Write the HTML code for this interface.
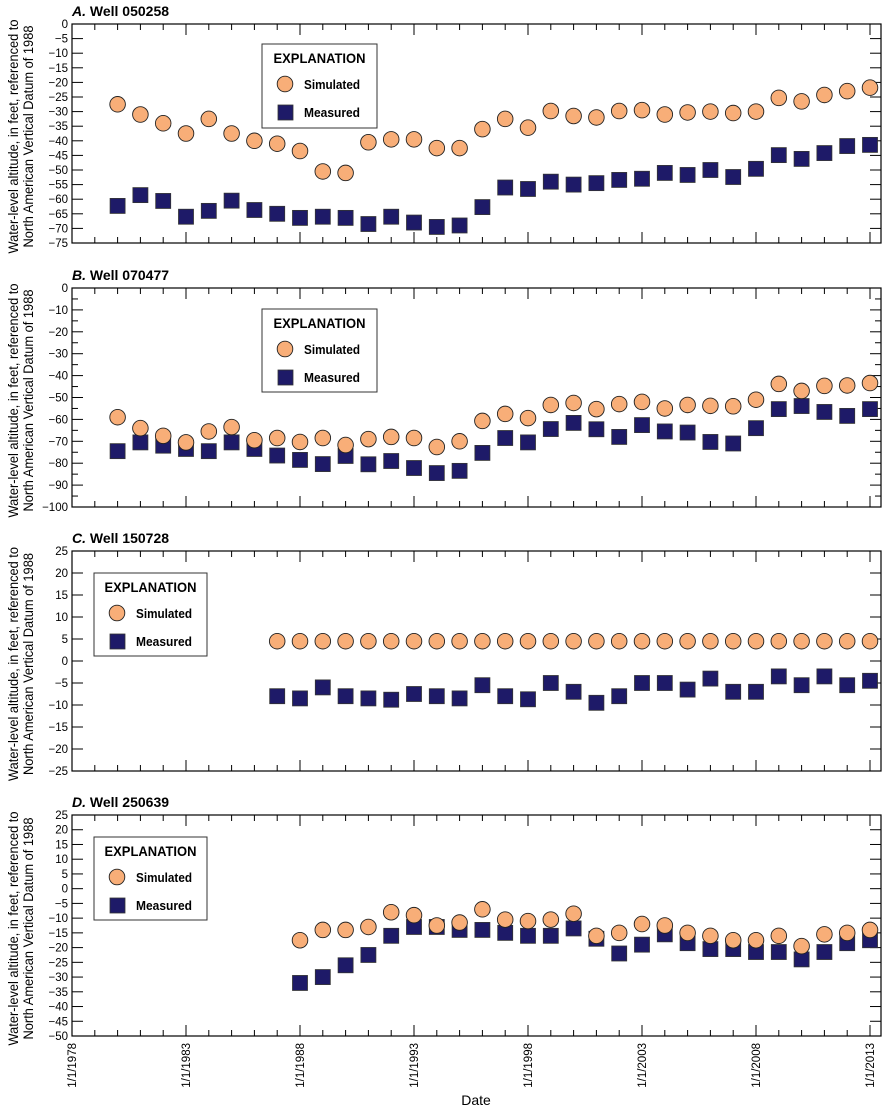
<!DOCTYPE html>
<html><head><meta charset="utf-8"><style>
body{margin:0;background:#fff;}
svg{display:block;font-family:"Liberation Sans",Arial,sans-serif;}
</style></head><body>
<svg id="chart" width="893" height="1110" viewBox="0 0 893 1110"></svg>
<script>
const years = [1980,1981,1982,1983,1984,1985,1986,1987,1988,1989,1990,1991,1992,1993,1994,1995,1996,1997,1998,1999,2000,2001,2002,2003,2004,2005,2006,2007,2008,2009,2010,2011,2012,2013];
const yearsC = years.slice(7);
const yearsD = years.slice(8);
const xTickYears = [1978,1983,1988,1993,1998,2003,2008,2013];
const simA = [-27.5,-31,-34,-37.5,-32.5,-37.5,-40,-41,-43.5,-50.5,-51,-40.5,-39.5,-39.5,-42.5,-42.5,-36,-32.5,-35.5,-29.8,-31.5,-32,-29.8,-29.5,-31,-30.3,-30,-30.5,-30,-25.3,-26.5,-24.3,-23,-21.8];
const measA = [-62.3,-58.6,-60.6,-66,-64,-60.5,-63.7,-65,-66.4,-66,-66.4,-68.5,-66,-68,-69.5,-69,-62.7,-56,-56.5,-54,-55,-54.5,-53.4,-53,-51,-51.7,-50,-52.4,-49.6,-44.9,-46.2,-44.2,-41.8,-41.4];
const simB = [-59,-64,-67.5,-70.5,-65.5,-63.5,-69.5,-68.5,-70.3,-68.5,-71.7,-69,-68,-68.5,-72.6,-70,-60.7,-57.5,-59.4,-53.4,-52.5,-55.3,-53,-52,-55,-53.4,-53.8,-54,-51,-43.8,-47,-44.7,-44.5,-43.4];
const measB = [-74.5,-70.5,-72,-73.5,-74.5,-70.5,-73.5,-76.5,-78.5,-80.4,-76.7,-80.5,-79,-82.2,-84.5,-83.5,-75.3,-68.5,-70.5,-64.4,-61.6,-64.5,-68,-62.6,-65.5,-66,-70.3,-71,-64,-55.3,-53.9,-56.6,-58.4,-55.3];
const simC = [4.5,4.5,4.5,4.5,4.5,4.5,4.5,4.5,4.5,4.5,4.5,4.5,4.5,4.5,4.5,4.5,4.5,4.5,4.5,4.5,4.5,4.5,4.5,4.5,4.5,4.5,4.5];
const measC = [-8,-8.5,-6,-8,-8.5,-8.8,-7.5,-8,-8.5,-5.5,-8,-8.7,-5,-7,-9.5,-8,-5,-5,-6.5,-4,-7,-7,-3.5,-5.5,-3.5,-5.5,-4.5];
const simD = [-17.5,-14,-14,-13,-8,-9,-12.5,-11.5,-7,-10.5,-11,-10.5,-8.5,-16,-15,-12,-12.5,-15,-16,-17.5,-17.5,-16,-19.5,-15.5,-15,-14];
const measD = [-32,-30,-26,-22.5,-16,-13,-13,-14,-14,-15,-16,-16,-13.5,-17,-22,-19,-15.5,-18.5,-20.5,-20.5,-21.5,-21.5,-24,-21.5,-18.5,-17.5];

const NS="http://www.w3.org/2000/svg";
const svg=document.getElementById('chart');
function mk(tag,attrs,parent){const e=document.createElementNS(NS,tag);for(const k in attrs)e.setAttribute(k,attrs[k]);(parent||svg).appendChild(e);return e;}
const X0=72,X1=881;
function xs(yr){return X0+(yr-1978)*(870-72)/35;}

const panels=[
 {id:'a',letter:'A.',title:' Well 050258',top:24,bot:243,ymax:0,ymin:-75,major:5,minor:0,sim:simA,meas:measA,yrs:years,leg:[262,44,115,84]},
 {id:'b',letter:'B.',title:' Well 070477',top:288,bot:507,ymax:0,ymin:-100,major:10,minor:5,sim:simB,meas:measB,yrs:years,leg:[262,309,115,83]},
 {id:'c',letter:'C.',title:' Well 150728',top:551,bot:771,ymax:25,ymin:-25,major:5,minor:0,sim:simC,meas:measC,yrs:yearsC,leg:[94,573,113,83]},
 {id:'d',letter:'D.',title:' Well 250639',top:815,bot:1036,ymax:25,ymin:-50,major:5,minor:0,sim:simD,meas:measD,yrs:yearsD,leg:[94,837,113,83]}
];

panels.forEach(p=>{
 const g=mk('g',{});
 
 
 const ys=v=>p.top+(p.ymax-v)*(p.bot-p.top)/(p.ymax-p.ymin);
 const t=mk('text',{x:X0,y:p.top-8,'font-size':14,'font-weight':'bold'},g);
 
 
 const ti=mk('tspan',{'font-style':'italic'},t);ti.textContent=p.letter;
 const t2=mk('tspan',{},t);t2.textContent=p.title;
 const fr=mk('rect',{x:X0,y:p.top,width:X1-X0,height:p.bot-p.top,fill:'none',stroke:'#000','stroke-width':1.2},g);
 
 
 for(let v=p.ymax;v>=p.ymin-0.001;v-=p.major){
  const y=ys(v);
  mk('line',{x1:X0,x2:X0+11,y1:y,y2:y,stroke:'#000','stroke-width':1},g);
  mk('line',{x1:X1,x2:X1-11,y1:y,y2:y,stroke:'#000','stroke-width':1},g);
  const l=mk('text',{x:X0-4,y:y+4,'font-size':11.5,'text-anchor':'end'},g);
  
  
  l.textContent=(v<0?'\u2212'+(-v):String(v));
 }
 if(p.minor){for(let v=p.ymax-p.minor;v>p.ymin;v-=p.major){const y=ys(v);
  mk('line',{x1:X0,x2:X0+6,y1:y,y2:y,stroke:'#000'},g);mk('line',{x1:X1,x2:X1-6,y1:y,y2:y,stroke:'#000'},g);}}
 for(let yr=1979;yr<=2013;yr++){
  const x=xs(yr);const len=((yr-1978)%5===0)?11:6;
  mk('line',{x1:x,x2:x,y1:p.top,y2:p.top+len,stroke:'#000'},g);
  mk('line',{x1:x,x2:x,y1:p.bot,y2:p.bot-len,stroke:'#000'},g);
 }
 const cy=(p.top+p.bot)/2+3;
 const at=mk('text',{transform:`translate(18,${cy}) rotate(-90)`,'font-size':13.5,'text-anchor':'middle'},g);
 
 
 const a1=mk('tspan',{x:0,dy:0,textLength:234,lengthAdjust:'spacingAndGlyphs'},at);a1.textContent='Water-level altitude, in feet, referenced to';
 const a2=mk('tspan',{x:0,dy:15,textLength:222,lengthAdjust:'spacingAndGlyphs'},at);a2.textContent='North American Vertical Datum of 1988';
 p.meas.forEach((v,i)=>{const x=xs(p.yrs[i]),y=ys(v);
  const r=mk('rect',{x:x-7.5,y:y-7.5,width:15,height:15,fill:'#1e1a68',stroke:'#333',"stroke-width":0.8},g);
  
  });
 p.sim.forEach((v,i)=>{const x=xs(p.yrs[i]),y=ys(v);
  const c=mk('circle',{cx:x,cy:y,r:7.8,fill:'#f8ae78',stroke:'#222','stroke-width':0.9},g);
  
  });
 const [lx,ly,lw,lh]=p.leg;
 const lg=mk('g',{},g);
 
 
 mk('rect',{x:lx,y:ly,width:lw,height:lh,fill:'#fff',stroke:'#333','stroke-width':1},lg);
 const lt=mk('text',{x:lx+lw/2,y:ly+19,'font-size':14,'font-weight':'bold','text-anchor':'middle',textLength:92,lengthAdjust:'spacingAndGlyphs'},lg);
 lt.textContent='EXPLANATION';
 mk('circle',{cx:lx+23,cy:ly+40,r:7.8,fill:'#f8ae78',stroke:'#222','stroke-width':0.9},lg);
 const s1=mk('text',{x:lx+42,y:ly+45,'font-size':13,'font-weight':'bold',textLength:56,lengthAdjust:'spacingAndGlyphs'},lg);
 
 
 s1.textContent='Simulated';
 mk('rect',{x:lx+16,y:ly+61,width:15,height:15,fill:'#1e1a68',stroke:'#333','stroke-width':0.8},lg);
 const s2=mk('text',{x:lx+42,y:ly+73,'font-size':13,'font-weight':'bold',textLength:56,lengthAdjust:'spacingAndGlyphs'},lg);
 
 
 s2.textContent='Measured';
});
xTickYears.forEach(yr=>{
 const x=xs(yr);
 const l=mk('text',{transform:`translate(${x+4},1043) rotate(-90)`,'font-size':11.5,'text-anchor':'end'});
 
 
 l.textContent='1/1/'+yr;
});
const xt=mk('text',{x:476,y:1105,'font-size':14,'text-anchor':'middle'});


xt.textContent='Date';
</script>
</body></html>
